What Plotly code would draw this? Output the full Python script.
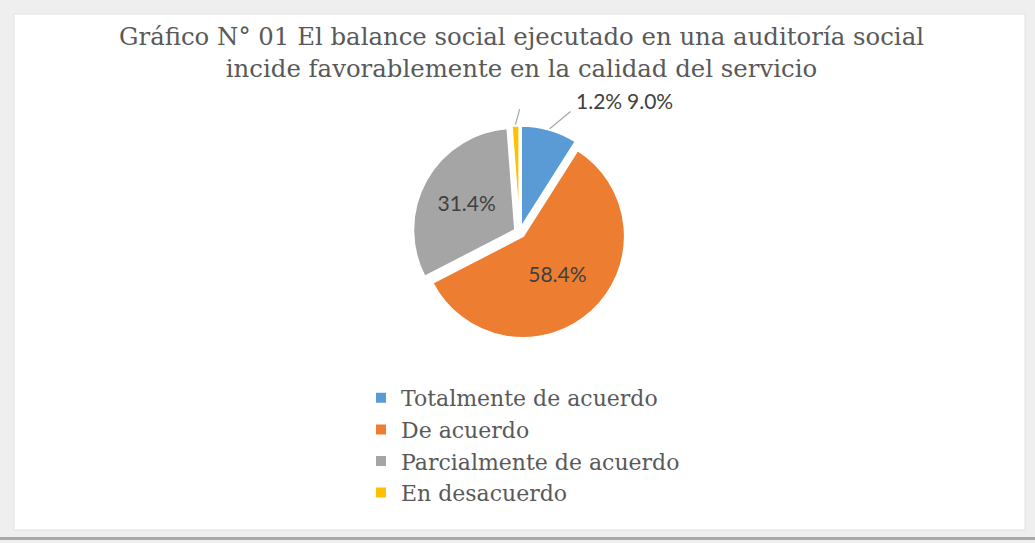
import math
import plotly.graph_objects as go

# Survey answers and their shares (%)
categories = ["Totalmente de acuerdo", "De acuerdo", "Parcialmente de acuerdo", "En desacuerdo"]
shares = [9.0, 58.4, 31.4, 1.2]
colors = ["#5B9BD5", "#ED7D31", "#A5A5A5", "#FFC000"]
title_lines = [
    "Gráfico N° 01 El balance social ejecutado en una auditoría social",
    "incide favorablemente en la calidad del servicio",
]

W, H = 1035, 543
PULL = 0.05
SERIF = "DejaVu Serif, Liberation Serif, serif"
SANS = "Lato, Liberation Sans, sans-serif"
# pie domain in paper units
DX = [0.398, 0.606]
DY = [0.375, 0.769]

labels_text = [f"{v:.1f}%" for v in shares]
outside = [v < 10 for v in shares]  # small slices are labelled above the pie
inside_text = ["" if o else t for o, t in zip(outside, labels_text)]

fig = go.Figure()
fig.add_trace(go.Pie(
    labels=categories,
    values=shares,
    text=inside_text,
    textinfo="text",
    textposition="inside",
    insidetextorientation="horizontal",
    textfont=dict(family=SANS, size=21, color="#404040"),
    marker=dict(colors=colors, line=dict(color="white", width=2)),
    pull=[PULL] * len(shares),
    sort=False,
    direction="clockwise",
    rotation=0,
    domain=dict(x=DX, y=DY),
    hoverinfo="label+percent",
))

# geometry of the pie in pixels, used for the outside labels' leader lines
cx = (DX[0] + DX[1]) / 2 * W
cy = (1 - (DY[0] + DY[1]) / 2) * H
r_dom = min((DX[1] - DX[0]) * W, (DY[1] - DY[0]) * H) / 2
r = r_dom / (1 + PULL)

total = sum(shares)
cum = 0.0
mid_angles = []
for v in shares:
    mid_angles.append((cum + v / 2) / total * 2 * math.pi)
    cum += v

shapes = [
    # white card on a light grey page
    dict(type="rect", xref="paper", yref="paper", x0=0, x1=1, y0=0, y1=1,
         fillcolor="#EFEFEF", line=dict(width=0), layer="below"),
    dict(type="rect", xref="paper", yref="paper",
         x0=14 / W, x1=1025 / W, y0=1 - 530 / H, y1=1 - 14 / H,
         fillcolor="white", line=dict(color="#E2E2E2", width=1), layer="below"),
    dict(type="rect", xref="paper", yref="paper",
         x0=0, x1=1, y0=1 - 540 / H, y1=1 - 537 / H,
         fillcolor="#A9A9A9", line=dict(width=0), layer="below"),
]

annotations = []
# outside labels: short leader lines from the slice edge, labels side by side above right
label_pos = {3: (599, 101), 0: (650, 101)}
line_len = {3: 16, 0: 27}
line_turn = {3: 0.3, 0: 0.6}
for i in (3, 0):
    a = mid_angles[i]
    rr = r * (1 + PULL) + 1
    x0 = cx + rr * math.sin(a)
    y0 = cy - rr * math.cos(a)
    ang = a + line_turn[i]
    x1 = x0 + line_len[i] * math.sin(ang)
    y1 = y0 - line_len[i] * math.cos(ang)
    shapes.append(dict(type="line", xref="paper", yref="paper",
                       x0=x0 / W, y0=1 - y0 / H, x1=x1 / W, y1=1 - y1 / H,
                       line=dict(color="#A6A6A6", width=1.2)))
    lx, ly = label_pos[i]
    annotations.append(dict(
        text=labels_text[i], x=lx / W, y=1 - ly / H, xref="paper", yref="paper",
        showarrow=False, xanchor="center", yanchor="middle",
        font=dict(family=SANS, size=21, color="#404040"),
    ))

annotations.append(dict(
    text="<br>".join(title_lines), x=521 / W, y=1 - 20 / H, xref="paper", yref="paper",
    showarrow=False, xanchor="center", yanchor="top", align="center",
    font=dict(family=SERIF, size=24.4, color="#595959"),
))

fig.update_layout(
    width=W, height=H,
    margin=dict(l=0, r=0, t=0, b=0),
    paper_bgcolor="#EFEFEF",
    plot_bgcolor="white",
    shapes=shapes,
    annotations=annotations,
    showlegend=True,
    legend=dict(
        x=361 / W, y=1 - 377 / H, xanchor="left", yanchor="top",
        orientation="v",
        font=dict(family=SERIF, size=22, color="#595959"),
        bgcolor="rgba(0,0,0,0)",
        itemwidth=30,
        tracegroupgap=0,
    ),
)

fig.write_html("out.html")
